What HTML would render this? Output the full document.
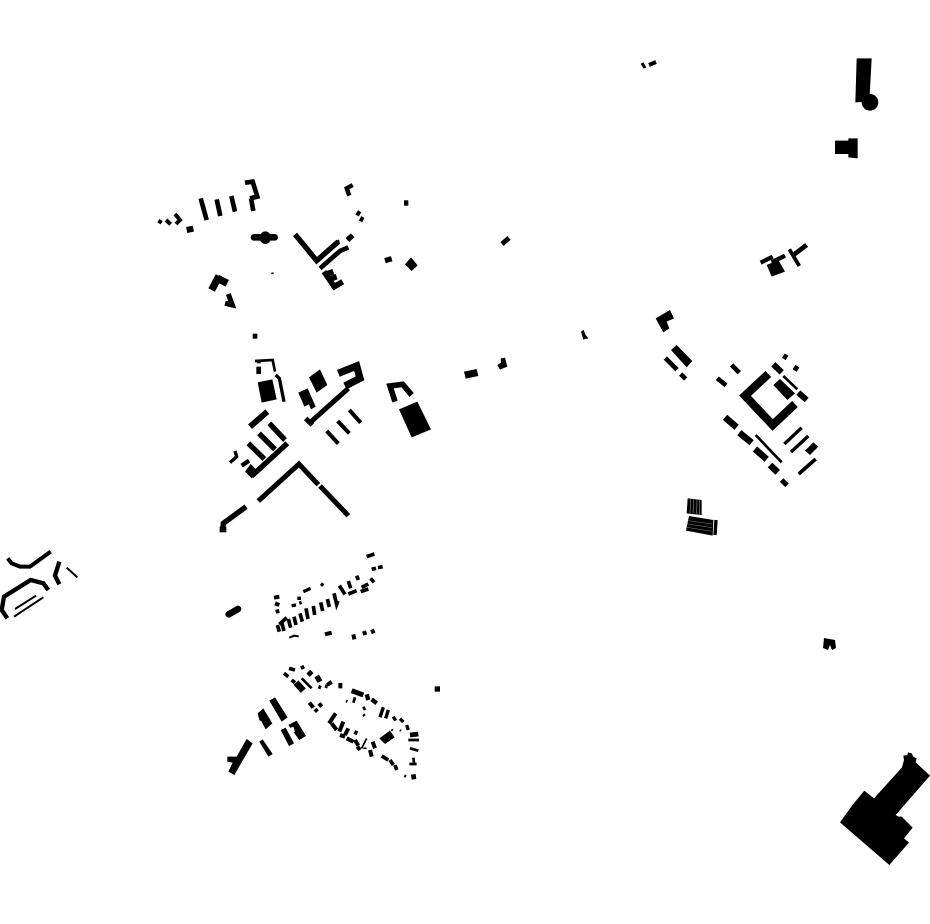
<!DOCTYPE html>
<html><head><meta charset="utf-8"><style>html,body{margin:0;padding:0;background:#fff;width:930px;height:924px;overflow:hidden}svg{display:block}</style></head>
<body>
<svg width="930" height="924" viewBox="0 0 930 924" xmlns="http://www.w3.org/2000/svg">
<rect width="930" height="924" fill="#fff"/>
<g fill="none" stroke="#000" stroke-linejoin="miter">
<!-- zoom1 -->
<g transform="translate(140,170) scale(.33333)">
<path stroke-width="14" d="M182 85L200 150M230 88L241 138M274 78L285 125"/>
<path stroke-width="14" d="M315 38L338 35L352 80L330 85M333 85L340 123"/>
<path stroke-width="12" d="M55 152L65 158M78 150L92 163M105 132L120 150L108 162"/>
<path stroke-width="18" d="M140 180L160 176"/>
<path stroke-width="16" d="M465 193L530 272L595 215"/>
<path stroke-width="14" d="M540 295L600 243L625 232"/>
<path stroke-width="17" d="M552 305L583 350L608 335M560 312L580 305M568 328L590 320"/>
<path stroke-width="13" d="M638 45L620 55L628 77"/>
<path stroke-width="16" d="M622 210L638 196M735 272L755 266"/>
<path stroke-width="15" d="M650 127L660 133M660 145L670 150"/>
<path stroke-width="16" d="M792 99L805 99"/>
<path stroke-width="22" d="M237 318L215 360M232 325L262 340"/>
<path stroke-width="15" d="M265 372L277 405L255 400"/>
<path stroke-width="14" d="M345 491L345 506"/>
<path stroke-width="5" d="M394 310L401 310"/>
</g>
<g transform="translate(140,170) scale(.33333)" stroke="none">
<rect x="332" y="192" width="82" height="20" rx="10" fill="#000"/>
<ellipse cx="376" cy="203" rx="17" ry="19" fill="#000"/>
<polygon points="795,283 813,262 833,286 815,303" fill="#000"/>
<polygon points="578,220 597,208 600,222" fill="#000"/>
<polygon points="255,400 275,380 285,412 262,408" fill="#000"/>
</g>
<!-- zoom2 -->
<g transform="translate(210,350) scale(.33333)">
<path stroke-width="8" d="M135 33L188 30L195 65"/>
<path stroke-width="14" d="M146 50L146 72"/>
<path stroke-width="10" d="M141 35L152 35"/>
<path stroke-width="10" d="M197 75L208 85L222 155"/>
<path stroke-width="18" d="M120 230L172 185"/>
<path stroke-width="16" d="M125 378L232 280M178 220L225 270M147 250L195 298M115 280L163 327"/>
<path stroke-width="10" d="M75 303L80 320L60 338"/>
<path stroke-width="13" d="M95 347L117 332"/>
<path stroke-width="15" d="M145 453L267 342L325 404M330 408L415 497"/>
<path stroke-width="16" d="M108 470L40 520L38 545"/>
<path stroke-width="15" d="M300 218L415 115M287 205L307 225"/>
<path stroke-width="22" d="M385 70L440 48L450 85L405 108"/>
<path stroke-width="12" d="M418 180L452 218M383 213L418 250M350 243L385 281"/>
<path stroke-width="17" d="M555 155L540 108L578 103L605 135"/>
</g>
<g transform="translate(210,350) scale(.33333)" stroke="none">
<polygon points="143,97 187,88 200,148 155,158" fill="#000"/>
<polygon points="297,82 330,58 352,105 320,128" fill="#000"/>
<polygon points="265,128 293,115 317,170 303,178 297,163 283,170" fill="#000"/>
<polygon points="567,178 622,155 663,238 605,262" fill="#000"/>
<polygon points="105,365 122,342 145,365 125,385" fill="#000"/>
<rect x="29" y="530" width="20" height="17" fill="#000"/>
</g>
<!-- zoom3 -->
<g transform="translate(640,300) scale(.33333)">
<path stroke-width="14" d="M76 174L111 209M122 222L137 237M232 235L258 256M275 195L298 218"/>
<path stroke-width="18" d="M400 193L425 217M475 278L500 300"/>
<path stroke-width="25" d="M385 222L315 287L398 375L465 312"/>
<path stroke-width="8" d="M430 228L472 268M347 405L425 487"/>
<path stroke-width="20" d="M255 352L290 382M298 398L335 428M345 447L380 478M390 495L413 517"/>
<path stroke-width="15" d="M425 540L441 556M430 167L441 174M462 201L474 209"/>
<path stroke-width="10" d="M433 432L485 383M453 456L505 408"/>
<path stroke-width="11" d="M476 522L527 477"/>
<path stroke-width="10" d="M228 660L225 705"/>
</g>
<g transform="translate(640,300) scale(.33333)" stroke="none">
<polygon points="47,55 90,30 102,55 80,65 88,85 70,97" fill="#000"/>
<polygon points="93,150 110,135 157,183 140,202" fill="#000"/>
<polygon points="400,255 420,237 465,280 442,300" fill="#000"/>
<polygon points="495,452 520,427 535,440 510,465" fill="#000"/>
<polygon points="143,595 185,600 185,645 140,640" fill="#000"/>
<polygon points="147,648 220,660 218,707 138,692" fill="#000"/>
<path d="M152 597L150 640M161 598L159 641M171 599L170 642M179 600L178 643" stroke="#fff" stroke-width="1" fill="none"/>
<path d="M145 662L217 672M143 672L216 683M141 682L215 694" stroke="#fff" stroke-width=".8" fill="none"/>
</g>
<!-- zoom4 -->
<g transform="translate(220,545) scale(.33333)">
<path stroke-width="20" stroke-linecap="round" d="M26 208L54 192"/>
<path stroke-width="11" d="M440 35L463 27M455 73L468 70M474 68L488 65"/>
<path stroke-width="12" d="M162 158L178 155M165 175L178 180M167 200L178 198"/>
<path stroke-width="10" d="M250 140L272 130M232 160L243 160M215 182L228 180M238 175L245 172M303 116L310 122"/>
<path stroke-width="11" d="M178 238L200 218M172 240L178 260M185 232L192 258M205 222L212 248M222 215L228 240M240 205L247 230M258 190L264 222M280 183L284 210M302 172L308 198M322 162L328 186M342 145L350 178L354 168"/>
<path stroke-width="11" d="M358 122L375 148M385 108L392 130M410 92L415 105M385 147L410 137M425 127L445 117M422 140L445 132M452 100L462 112"/>
<path stroke-width="12" d="M315 268L335 263M400 268L403 283M432 258L436 270M456 253L461 265"/>
<path stroke-width="6" d="M208 278L222 272L236 274"/>
</g>
<!-- zoom5 -->
<g transform="translate(220,660) scale(.33333)">
<path stroke-width="11" d="M192 40L205 50M207 25L225 30M245 17L250 27M215 60L225 68M295 80L303 83M315 78L323 80"/>
<path stroke-width="16" d="M265 35L275 45M290 48L300 65M325 65L332 75M355 77L367 77"/>
<path stroke-width="20" d="M228 68L250 92"/>
<path stroke-width="8" d="M245 55L275 85"/>
<path stroke-width="12" d="M268 128L280 143M297 130L305 140M285 147L292 155"/>
<path stroke-width="15" d="M395 92L430 105"/>
<path stroke-width="13" d="M440 103L445 120M455 118L470 130"/>
<path stroke-width="8" d="M378 123L382 125M405 112L400 128M430 140L435 150M430 163L434 168"/>
<path stroke-width="10" d="M490 142L480 172M505 150L497 175M520 170L527 182M540 176L550 186M560 195L565 210"/>
<path stroke-width="7" d="M515 208L518 212M540 210L543 213"/>
<path stroke-width="14" d="M570 225L595 222M580 343L582 358"/>
<path stroke-width="8" d="M565 240L597 240M570 265L595 272M580 293L582 308M568 312L590 312M553 347L558 350"/>
<path stroke-width="12" d="M347 160L327 190M335 190L350 210M370 185L358 215M385 205L375 225M360 225L375 230M380 235L400 245M403 216L412 220M405 240L415 257M412 260L420 270M458 245L465 265M450 270L455 290"/>
<path stroke-width="5" d="M440 235L425 265M430 265L440 265"/>
<path stroke-width="11" d="M485 288L505 300M510 300L520 315M525 315L530 330"/>
<path stroke-width="16" d="M644 87L660 87"/>
</g>
<g transform="translate(220,660) scale(.33333)" stroke="none">
<polygon points="148,122 165,112 203,172 185,185" fill="#000"/>
<polygon points="113,160 130,145 157,190 137,208 125,185 118,180" fill="#000"/>
<polygon points="182,210 197,203 222,250 207,258" fill="#000"/>
<polygon points="205,195 230,182 258,228 238,240" fill="#000"/>
<polygon points="208,205 220,200 225,215 213,220" fill="#fff"/>
<polygon points="118,245 128,238 158,282 145,290" fill="#000"/>
<polygon points="22,290 50,290 80,237 98,250 43,345 25,335 38,308 22,305" fill="#000"/>
<polygon points="478,235 510,212 524,232 495,252" fill="#000"/>
</g>
<!-- zoom6 -->
<g transform="translate(0,545) scale(.33333)">
<path stroke-width="12" d="M23 40L35 55L60 65L90 65L152 20"/>
<path stroke-width="13" d="M178 50L165 92L178 118"/>
<path stroke-width="6" d="M200 68L232 97"/>
<path stroke-width="13" d="M145 135L130 115L92 105L12 155L5 195L22 220"/>
<path stroke-width="6" d="M45 192L108 152M42 215L130 157"/>
</g>
<!-- zoom7 -->
<g transform="translate(830,745) scale(.33333)" stroke="none">
<polygon points="30,232 66,182 103,137 132,160 216,67 222,45 220,32 232,30 234,22 245,25 250,35 260,40 257,52 300,92 197,210 205,215 215,215 248,248 222,280 237,293 178,360" fill="#000"/>
</g>
<!-- zoom8 -->
<g transform="translate(750,50) scale(.33333)" stroke="none">
<polygon points="320,25 365,25 358,155 316,157" fill="#000"/>
<circle cx="360" cy="157" r="25" fill="#000"/>
<polygon points="255,272 295,272 295,265 323,265 323,325 295,322 295,312 255,312" fill="#000"/>
<polygon points="50,645 85,630 105,665 65,680" fill="#000"/>
<path d="M32 638L68 620M65 637L105 617" stroke="#000" stroke-width="13" fill="none"/>
<path d="M130 615L170 585" stroke="#000" stroke-width="14" fill="none"/>
<path d="M118 598L148 648" stroke="#000" stroke-width="11" fill="none"/>
</g>
<!-- small pieces -->
<g transform="translate(455,325) scale(.33333)" stroke="none">
<polygon points="27,140 65,132 70,153 32,161" fill="#000"/>
<polygon points="127,120 138,113 137,100 150,98 157,125 135,134" fill="#000"/>
<polygon points="378,20 386,15 392,30 400,40 385,44" fill="#000"/>
</g>
<path stroke-width="3" d="M642 63L645 68"/>
<path stroke-width="4" d="M649 65L656 62"/>
<path stroke-width="5" d="M502 244L509 238"/>
</g>
<polygon points="824,638 835,640 836,648 832,650 830,645 828,650 823,648" fill="#000"/>
</svg>
</body></html>
